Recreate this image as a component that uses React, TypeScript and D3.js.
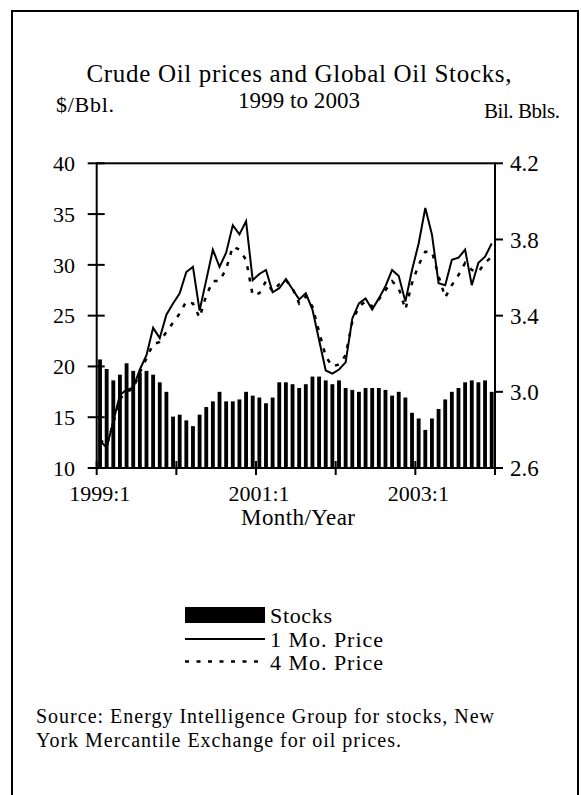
import React from "react";
import * as d3 from "d3";

const years = [1999, 2000, 2001, 2002, 2003];
const monthsOfYear = [1, 2, 3, 4, 5, 6, 7, 8, 9, 10, 11, 12];
const months = years.flatMap((y) => monthsOfYear.map((m) => `${y}:${m}`));

// Global oil stocks, billion barrels (right axis)
const stocks = [
  3.17, 3.12, 3.06, 3.09, 3.15, 3.11, 3.10, 3.11, 3.09, 3.05, 3.00, 2.87,
  2.88, 2.85, 2.82, 2.88, 2.92, 2.95, 3.00, 2.95, 2.95, 2.96, 3.00, 2.98,
  2.97, 2.94, 2.97, 3.05, 3.05, 3.04, 3.02, 3.04, 3.08, 3.08, 3.06, 3.04,
  3.06, 3.02, 3.01, 3.00, 3.02, 3.02, 3.02, 3.01, 2.98, 3.00, 2.97, 2.89,
  2.86, 2.80, 2.86, 2.91, 2.96, 3.00, 3.02, 3.05, 3.06, 3.05, 3.06, 3.00,
];

// 1 month futures price, $/bbl (left axis)
const price1 = [
  12.7, 12.0, 14.6, 17.2, 17.7, 17.9, 19.7, 21.1, 23.8, 22.8, 25.1, 26.2,
  27.2, 29.3, 29.8, 25.5, 28.5, 31.5, 29.8, 31.2, 33.9, 33.0, 34.3, 28.5,
  29.1, 29.5, 27.3, 27.7, 28.6, 27.6, 26.6, 27.2, 25.6, 22.6, 19.6, 19.3,
  19.7, 20.4, 24.7, 26.2, 26.7, 25.6, 26.7, 27.9, 29.5, 28.9, 26.4, 29.5,
  32.1, 35.6, 33.0, 28.2, 28.0, 30.5, 30.7, 31.5, 28.0, 30.2, 30.8, 32.1,
];

// 4 month futures price, $/bbl (left axis)
const price4 = [
  12.8, 12.2, 14.4, 16.8, 17.5, 17.8, 19.4, 20.8, 22.2, 22.4, 23.4, 24.3,
  25.2, 26.4, 26.2, 24.8, 27.0, 28.4, 28.4, 29.6, 31.8, 31.5, 30.5, 27.0,
  27.2, 28.4, 27.4, 28.1, 28.5, 27.7, 26.2, 26.9, 25.9, 23.4, 21.0, 20.0,
  20.2, 21.1, 24.4, 25.9, 26.4, 25.9, 26.6, 27.5, 28.4, 27.7, 25.6, 28.2,
  30.0, 31.3, 31.3, 28.9, 26.8, 28.0, 29.0, 30.2, 29.5, 29.3, 30.2, 30.8,
];

const leftTicks = [10, 15, 20, 25, 30, 35, 40];
const rightTicks = [2.6, 3.0, 3.4, 3.8, 4.2];
const xTickMonths = [0, 12, 24, 36, 48, 60];
const xLabels = ["1999:1", "2001:1", "2003:1"];
const xLabelMonths = [0, 24, 48];

const FONT = "'Liberation Serif', 'Times New Roman', serif";
const DASH = "4,7.5";

export default function App() {
  const W = 581;
  const H = 795;
  const left = 96.7;
  const right = 495;
  const top = 163.3;
  const bottom = 468;

  const xBand = d3
    .scaleBand<number>()
    .domain(d3.range(months.length))
    .range([left, right])
    .paddingInner(0.42)
    .paddingOuter(0.21);
  const xLin = d3.scaleLinear().domain([0, months.length]).range([left, right]);
  const yL = d3.scaleLinear().domain([10, 40]).range([bottom, top]);
  const yR = d3.scaleLinear().domain([2.6, 4.2]).range([bottom, top]);
  const cx = (i: number) => xLin(i + 0.5);

  const line = d3
    .line<number>()
    .x((_, i) => cx(i))
    .y((d) => yL(d));

  return (
    <svg
      width={W}
      height={H}
      style={{ position: "absolute", left: 0, top: 0, background: "#fff" }}
      fontFamily={FONT}
    >
      <rect x={0} y={0} width={W} height={H} fill="#fff" />
      <rect x={12} y={11} width={566} height={820} fill="none" stroke="#000" strokeWidth={2} />

      <text x={299} y={82} fontSize={25} textAnchor="middle" textLength={425} lengthAdjust="spacing">
        Crude Oil prices and Global Oil Stocks,
      </text>
      <text x={299} y={108} fontSize={23} textAnchor="middle" textLength={122} lengthAdjust="spacing">
        1999 to 2003
      </text>
      <text x={56} y={112} fontSize={22} textLength={58} lengthAdjust="spacing">
        $/Bbl.
      </text>
      <text x={484} y={118} fontSize={21} textLength={76} lengthAdjust="spacing">
        Bil. Bbls.
      </text>

      {/* bars */}
      {stocks.map((v, i) => (
        <rect
          key={i}
          x={xBand(i)}
          y={yR(v)}
          width={xBand.bandwidth()}
          height={bottom - yR(v)}
          fill="#000"
        />
      ))}

      {/* lines */}
      <path d={line(price4) || ""} fill="none" stroke="#000" strokeWidth={2.5} strokeDasharray={DASH} />
      <path d={line(price1) || ""} fill="none" stroke="#000" strokeWidth={2} strokeLinejoin="miter" />

      {/* frame */}
      <rect x={left} y={top} width={right - left} height={bottom - top} fill="none" stroke="#000" strokeWidth={2} />

      {/* left axis */}
      {leftTicks.map((t) => (
        <g key={"l" + t}>
          <line x1={left - 9} x2={left + 8} y1={yL(t)} y2={yL(t)} stroke="#000" strokeWidth={2} />
          <text x={75} y={yL(t)} dy="0.35em" fontSize={22} textAnchor="end">
            {t}
          </text>
        </g>
      ))}

      {/* right axis */}
      {rightTicks.map((t) => (
        <g key={"r" + t}>
          <line x1={right} x2={right + 8} y1={yR(t)} y2={yR(t)} stroke="#000" strokeWidth={2} />
          <text x={510} y={yR(t)} dy="0.35em" fontSize={23}>
            {t.toFixed(1)}
          </text>
        </g>
      ))}

      {/* x axis */}
      {xTickMonths.map((m) => (
        <line key={"x" + m} x1={xLin(m)} x2={xLin(m)} y1={bottom - 7} y2={bottom + 7} stroke="#000" strokeWidth={2} />
      ))}
      {xLabels.map((lab, i) => (
        <text key={lab} x={xLin(xLabelMonths[i]) + 3} y={501} fontSize={22} textAnchor="middle">
          {lab}
        </text>
      ))}
      <text x={298} y={525} fontSize={23} textAnchor="middle" textLength={114} lengthAdjust="spacing">
        Month/Year
      </text>

      {/* legend */}
      <rect x={185} y={607} width={80} height={16} fill="#000" />
      <text x={270} y={622.5} fontSize={22} textLength={62} lengthAdjust="spacing">Stocks</text>
      <line x1={185} x2={265} y1={639} y2={639} stroke="#000" strokeWidth={2} />
      <text x={270} y={646.5} fontSize={22} textLength={113} lengthAdjust="spacing">1 Mo. Price</text>
      <line x1={185} x2={265} y1={661.5} y2={661.5} stroke="#000" strokeWidth={2.5} strokeDasharray={DASH} />
      <text x={270} y={670} fontSize={22} textLength={113} lengthAdjust="spacing">4 Mo. Price</text>

      {/* source */}
      <text x={36} y={723} fontSize={20} textLength={458} lengthAdjust="spacing">
        Source: Energy Intelligence Group for stocks, New
      </text>
      <text x={36} y={746.5} fontSize={20} textLength={365} lengthAdjust="spacing">
        York Mercantile Exchange for oil prices.
      </text>
    </svg>
  );
}
